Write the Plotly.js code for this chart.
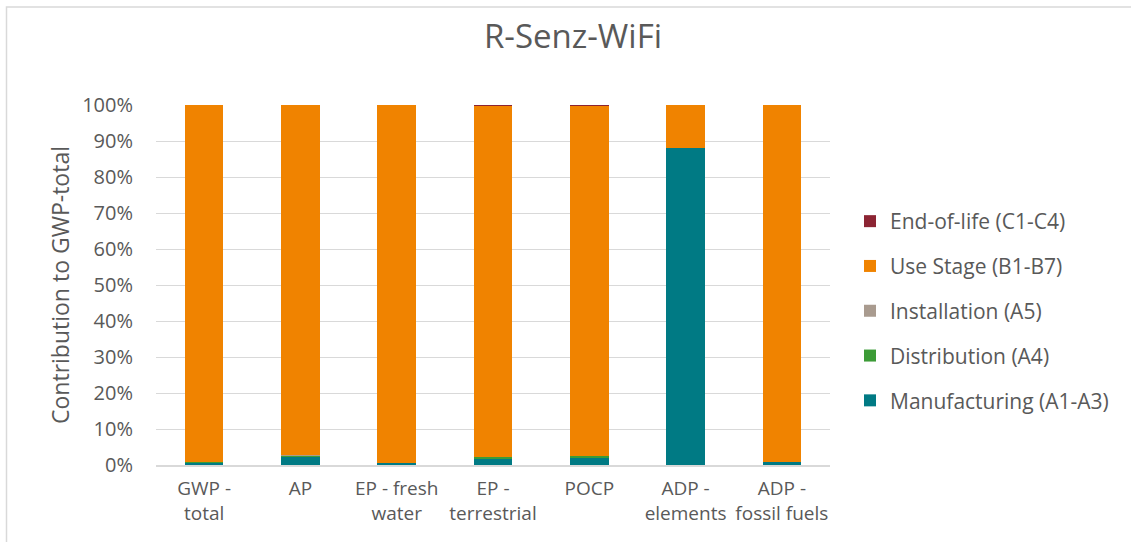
<!DOCTYPE html>
<html>
<head>
<meta charset="utf-8">
<script src="https://cdn.plot.ly/plotly-3.0.1.min.js"></script>
<style>
  html, body { margin: 0; padding: 0; background: #ffffff; }
  #chart { width: 1131px; height: 542px; }
</style>
</head>
<body>
<div id="chart"></div>
<script>
// Categories (x tick labels)
const categories = ["GWP -<br>total", "AP", "EP - fresh<br>water", "EP -<br>terrestrial", "POCP", "ADP -<br>elements", "ADP -<br>fossil fuels"];

// Series values (% contribution)
const manufacturing = [0.6, 2.2, 0.5, 1.6, 1.9, 88.0, 0.8];
const distribution  = [0.1, 0.4, 0.1, 0.5, 0.5, 0.0, 0.1];
const installation  = [0.05, 0.1, 0.05, 0.2, 0.1, 0.0, 0.05];
const useStage      = [99.15, 97.2, 99.25, 97.3, 97.3, 12.0, 98.95];
const endOfLife     = [0.1, 0.1, 0.1, 0.4, 0.2, 0.0, 0.1];

const seriesNames  = ["Manufacturing (A1-A3)", "Distribution (A4)", "Installation (A5)", "Use Stage (B1-B7)", "End-of-life (C1-C4)"];
const seriesValues = [manufacturing, distribution, installation, useStage, endOfLife];
const seriesColors = ["#007A84", "#3C9B37", "#A99B8F", "#F08300", "#8C2433"];

const yTicks = [0, 10, 20, 30, 40, 50, 60, 70, 80, 90, 100];

const FONT = "'Open Sans', 'Noto Sans', sans-serif";
const TXT = "#595959";

const traces = seriesNames.map((name, i) => ({
  type: "bar",
  name: name,
  x: categories,
  y: seriesValues[i],
  marker: { color: seriesColors[i], line: { width: 0 } },
  legendgroup: "g" + i,
  legendrank: 100 - i,
  hoverinfo: "x+y+name"
}));

const W = 1131, H = 542;
const mL = 156, mR = 301, mT = 105, mB = 77;
const pw = W - mL - mR, ph = H - mT - mB;
const px = v => (v - mL) / pw;
const py = v => (H - mB - v) / ph;

const layout = {
  width: W, height: H,
  margin: { l: mL, r: mR, t: mT, b: mB, pad: 0 },
  paper_bgcolor: "#ffffff",
  plot_bgcolor: "#ffffff",
  barmode: "stack",
  bargap: 0.6,
  font: { family: FONT, color: TXT, size: 20 },
  title: {
    text: "R-Senz-WiFi",
    font: { family: FONT, size: 33, color: TXT },
    x: 573 / W, xanchor: "center",
    y: 1 - 36 / H, yanchor: "middle"
  },
  xaxis: {
    type: "category",
    tickfont: { family: FONT, size: 19, color: TXT },
    showgrid: false,
    showline: true,
    linecolor: "#D9D9D9",
    linewidth: 1.5,
    ticks: "outside",
    ticklen: 6,
    tickcolor: "rgba(0,0,0,0)",
    fixedrange: true
  },
  yaxis: {
    range: [0, 100],
    tickvals: yTicks,
    ticktext: yTicks.map(v => v + "%"),
    tickfont: { family: FONT, size: 20, color: TXT },
    showgrid: true,
    gridcolor: "#D9D9D9",
    gridwidth: 1,
    zeroline: false,
    showline: false,
    ticks: "outside",
    ticklen: 18,
    tickcolor: "rgba(0,0,0,0)",
    title: {
      text: "Contribution to GWP-total",
      font: { family: FONT, size: 23, color: TXT },
      standoff: 6
    },
    fixedrange: true
  },
  legend: {
    x: px(850), xanchor: "left",
    y: py(201), yanchor: "top",
    traceorder: "grouped",
    tracegroupgap: 14.5,
    font: { family: FONT, size: 21, color: TXT },
    bgcolor: "rgba(0,0,0,0)"
  },
  shapes: [
    {
      type: "rect", xref: "paper", yref: "paper",
      x0: px(6.5), x1: px(1140), y0: py(550), y1: py(7),
      line: { color: "#D9D9D9", width: 1.5 },
      fillcolor: "rgba(0,0,0,0)",
      layer: "below"
    }
  ],
  showlegend: true
};

Plotly.newPlot("chart", traces, layout, { displayModeBar: false, staticPlot: true });
</script>
</body>
</html>
